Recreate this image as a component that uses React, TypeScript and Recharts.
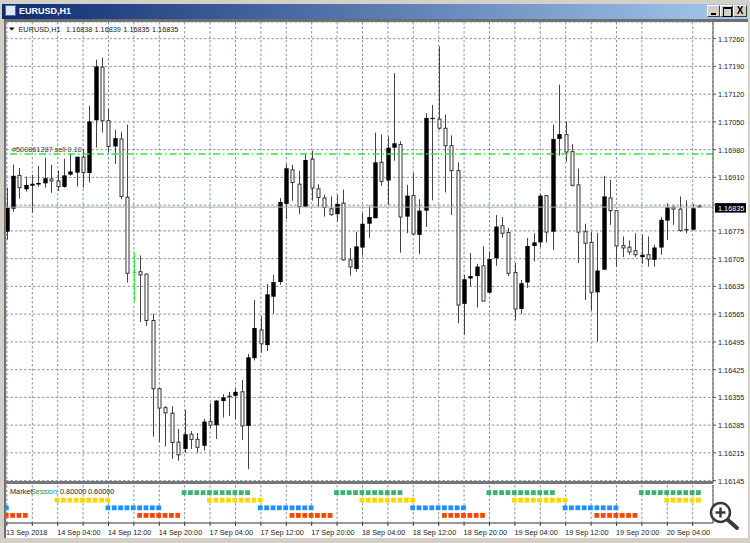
import { Bar, CartesianGrid, ComposedChart, ReferenceLine, Scatter, XAxis, YAxis } from "recharts";

const FONT = "'Liberation Sans', Arial, sans-serif";
const FS = 7.3;
const TEXT = "#222";
const GRID = "#8494a8";

// candles, oldest first (EURUSD H1)
const opens = [1.16773,1.16831,1.16915,1.16880,1.16889,1.16892,1.16895,1.16906,1.16901,1.16886,1.16917,1.16922,1.16961,1.16921,1.17054,1.17188,1.17053,1.16988,1.17007,1.16860,1.16670,1.16672,1.16666,1.16549,1.16377,1.16329,1.16315,1.16242,1.16225,1.16262,1.16249,1.16233,1.16294,1.16285,1.16346,1.16357,1.16359,1.16369,1.16283,1.16454,1.16525,1.16487,1.16609,1.16646,1.16843,1.16929,1.16893,1.16836,1.16956,1.16881,1.16858,1.16831,1.16817,1.16845,1.16702,1.16679,1.16733,1.16793,1.16807,1.16948,1.16902,1.16985,1.16993,1.16811,1.16864,1.16765,1.16826,1.17057,1.17057,1.17034,1.16990,1.16927,1.16591,1.16655,1.16661,1.16687,1.16619,1.16706,1.16788,1.16771,1.16670,1.16578,1.16645,1.16737,1.16746,1.16864,1.16773,1.17007,1.17018,1.16975,1.16891,1.16773,1.16746,1.16620,1.16677,1.16858,1.16826,1.16738,1.16734,1.16725,1.16709,1.16715,1.16702,1.16733,1.16801,1.16835,1.16830,1.16777,1.16778,1.16838];
const highs = [1.16884,1.16942,1.16934,1.16912,1.16917,1.16939,1.16960,1.16942,1.16927,1.16957,1.16970,1.16962,1.16980,1.17091,1.17207,1.17212,1.17083,1.17030,1.17025,1.17043,1.16720,1.16713,1.16667,1.16566,1.16379,1.16333,1.16333,1.16275,1.16323,1.16270,1.16265,1.16301,1.16340,1.16348,1.16363,1.16369,1.16378,1.16399,1.16465,1.16601,1.16559,1.16641,1.16664,1.16858,1.16944,1.16942,1.16927,1.16969,1.16977,1.16893,1.16866,1.16862,1.16866,1.16879,1.16732,1.16773,1.16820,1.16839,1.17023,1.17018,1.17013,1.17173,1.17001,1.16891,1.16921,1.16855,1.17072,1.17093,1.17240,1.17068,1.17016,1.16948,1.16664,1.16719,1.16692,1.16736,1.16723,1.16815,1.16810,1.16782,1.16694,1.16651,1.16757,1.16769,1.16868,1.16864,1.17043,1.17144,1.17051,1.16994,1.16932,1.16793,1.16773,1.16770,1.16914,1.16904,1.16826,1.16761,1.16751,1.16769,1.16765,1.16761,1.16740,1.16810,1.16845,1.16839,1.16862,1.16852,1.16843,1.16839];
const lows = [1.16753,1.16823,1.16856,1.16874,1.16821,1.16886,1.16884,1.16871,1.16876,1.16884,1.16914,1.16887,1.16884,1.16897,1.16985,1.17023,1.16973,1.16944,1.16855,1.16645,1.16596,1.16545,1.16535,1.16256,1.16243,1.16231,1.16200,1.16195,1.16215,1.16225,1.16215,1.16221,1.16278,1.16250,1.16304,1.16308,1.16301,1.16248,1.16174,1.16448,1.16468,1.16472,1.16566,1.16639,1.16805,1.16851,1.16817,1.16835,1.16851,1.16836,1.16811,1.16813,1.16799,1.16700,1.16662,1.16672,1.16713,1.16757,1.16807,1.16889,1.16841,1.16952,1.16720,1.16769,1.16765,1.16716,1.16785,1.16852,1.17030,1.16872,1.16815,1.16542,1.16513,1.16634,1.16582,1.16598,1.16618,1.16687,1.16758,1.16661,1.16550,1.16566,1.16631,1.16698,1.16734,1.16746,1.16727,1.16965,1.16950,1.16887,1.16694,1.16601,1.16574,1.16496,1.16677,1.16790,1.16685,1.16709,1.16715,1.16709,1.16692,1.16685,1.16685,1.16715,1.16752,1.16790,1.16773,1.16769,1.16776,1.16835];
const closes = [1.16833,1.16914,1.16884,1.16891,1.16894,1.16896,1.16908,1.16901,1.16887,1.16915,1.16925,1.16962,1.16922,1.17051,1.17190,1.17053,1.16988,1.17009,1.16862,1.16668,1.16667,1.16664,1.16549,1.16377,1.16328,1.16316,1.16241,1.16210,1.16262,1.16249,1.16229,1.16294,1.16285,1.16347,1.16355,1.16359,1.16369,1.16283,1.16456,1.16530,1.16490,1.16615,1.16646,1.16848,1.16933,1.16897,1.16836,1.16954,1.16883,1.16859,1.16834,1.16816,1.16843,1.16702,1.16684,1.16736,1.16793,1.16810,1.16948,1.16900,1.16985,1.16996,1.16810,1.16864,1.16767,1.16826,1.17060,1.17060,1.17034,1.16990,1.16927,1.16588,1.16653,1.16661,1.16685,1.16598,1.16704,1.16786,1.16769,1.16668,1.16578,1.16643,1.16737,1.16746,1.16864,1.16772,1.17007,1.17019,1.16974,1.16890,1.16772,1.16744,1.16620,1.16675,1.16862,1.16826,1.16737,1.16732,1.16722,1.16715,1.16715,1.16704,1.16733,1.16803,1.16835,1.16830,1.16776,1.16779,1.16832,1.16835];

const GREEN_CANDLE = 20;
const orderPrice = 1.16969;
const orderLabel = "#500861287 sell 0.10";
const lastPrice = 1.16835;

const priceTicks = [1.1726,1.1719,1.1712,1.1705,1.1698,1.1691,1.1684,1.16775,1.16705,1.16635,1.16565,1.16495,1.16425,1.16355,1.16285,1.16215,1.16145];
const gridTicks = [0,4,8,12,16,20,24,28,32,36,40,44,48,52,56,60,64,68,72,76,80,84,88,92,96,100,104,108];
const timeLabels: Record<number, string> = {
  0: "13 Sep 2018", 8: "14 Sep 04:00", 16: "14 Sep 12:00", 24: "14 Sep 20:00", 32: "17 Sep 04:00",
  40: "17 Sep 12:00", 48: "17 Sep 20:00", 56: "18 Sep 04:00", 64: "18 Sep 12:00", 72: "18 Sep 20:00",
  80: "19 Sep 04:00", 88: "19 Sep 12:00", 96: "19 Sep 20:00", 104: "20 Sep 04:00",
};

// market session indicator: candles on which each session is open
const sessionA = [28,29,30,31,32,33,34,35,36,37,38,52,53,54,55,56,57,58,59,60,61,62,76,77,78,79,80,81,82,83,84,85,86,100,101,102,103,104,105,106,107,108,109];
const sessionB = [8,9,10,11,12,13,14,15,16,32,33,34,35,36,37,38,39,40,56,57,58,59,60,61,62,63,64,80,81,82,83,84,85,86,87,88,104,105,106,107,108,109];
const sessionC = [0,16,17,18,19,20,21,22,23,24,40,41,42,43,44,45,46,47,48,64,65,66,67,68,69,70,71,72,88,89,90,91,92,93,94,95,96];
const sessionD = [0,1,2,3,21,22,23,24,25,26,27,45,46,47,48,49,50,51,69,70,71,72,73,74,75,93,94,95,96,97,98,99];

const candles = opens.map((open, i) => ({
  i,
  open,
  close: closes[i],
  high: highs[i],
  low: lows[i],
  range: [lows[i], highs[i]],
}));

const toPoints = (list: number[], level: number) => list.map((x) => ({ x, level }));

const X_DOMAIN: [number, number] = [-0.14, 111.2];

function Candle(props: any) {
  const { x, y, width, height, payload } = props;
  const span = payload.high - payload.low;
  const cx = Math.floor(x + width / 2) + 0.5;
  const pos = (p: number) => y + ((payload.high - p) / span) * height;
  const up = payload.close > payload.open;
  const top = pos(Math.max(payload.open, payload.close));
  const bottom = pos(Math.min(payload.open, payload.close));
  if (payload.i === GREEN_CANDLE) {
    return (
      <g>
        <line x1={cx} x2={cx} y1={y} y2={y + height} stroke="#33e833" />
        <line x1={cx - 2} x2={cx + 2} y1={top} y2={top} stroke="#33e833" />
      </g>
    );
  }
  return (
    <g>
      <line x1={cx} x2={cx} y1={y} y2={y + height} stroke="#444" />
      {up ? (
        <rect x={cx - 2.2} y={top} width={4.4} height={Math.max(bottom - top, 1)} fill="#000" />
      ) : (
        <rect x={cx - 1.5} y={top} width={3} height={Math.max(bottom - top, 1)} fill="#fff" stroke="#333" />
      )}
    </g>
  );
}

function PriceTick(props: any) {
  const { x, y, payload } = props;
  if (payload.value === 1.1684) return null;
  return (
    <text x={x} y={y + 3} fontSize={FS} fontFamily={FONT} fill={TEXT}>
      {payload.value.toFixed(5)}
    </text>
  );
}

function TimeTick(props: any) {
  const { x, y, payload } = props;
  const label = timeLabels[payload.value];
  if (!label) return null;
  return (
    <text x={payload.value === 0 ? 6 : x - 0.5} y={y + 7} fontSize={FS} fontFamily={FONT} fill={TEXT}>
      {label}
    </text>
  );
}

function SessionSquare(props: any) {
  const { cx, cy, fill } = props;
  return <rect x={cx - 3} y={cy - 2.4} width={4.8} height={4.8} fill={fill} />;
}

function LastPriceLabel(props: any) {
  const { viewBox } = props;
  const y = viewBox.y;
  return (
    <g>
      <rect x={715} y={y - 4} width={31} height={9.5} fill="#000" />
      <text x={718} y={y + 3.5} fontSize={FS} fontFamily={FONT} fill="#fff">
        {lastPrice.toFixed(5)}
      </text>
    </g>
  );
}

function OrderLabel(props: any) {
  const { viewBox } = props;
  return (
    <text x={viewBox.x + 6} y={viewBox.y - 2} fontSize={FS} fontFamily={FONT} fill="#444">
      {orderLabel}
    </text>
  );
}

function WindowChrome() {
  const btn = { position: "absolute", top: 5, height: 12, width: 13, background: "#d4d0c8", borderTop: "1px solid #fff", borderLeft: "1px solid #fff", borderRight: "1px solid #404040", borderBottom: "1px solid #404040", boxSizing: "border-box" } as const;
  return (
    <>
      <div style={{ position: "absolute", left: 0, top: 0, width: 750, height: 543, background: "#d4d0c8" }} />
      <div style={{ position: "absolute", left: 2, top: 4, width: 746, height: 15, background: "linear-gradient(90deg, #0f2c70 0%, #a6caf0 100%)" }} />
      <div style={{ position: "absolute", left: 5, top: 5, width: 11, height: 11, background: "#dfe9f5", border: "1px solid #4a6fa5", boxSizing: "border-box" }} />
      <div style={{ position: "absolute", left: 19, top: 5, color: "#fff", fontFamily: FONT, fontWeight: "bold", fontSize: 9, lineHeight: "12px" }}>EURUSD,H1</div>
      <div style={{ ...btn, left: 707 }}>
        <div style={{ position: "absolute", left: 3, top: 7, width: 5, height: 2, background: "#000" }} />
      </div>
      <div style={{ ...btn, left: 720 }}>
        <div style={{ position: "absolute", left: 2, top: 1, width: 7, height: 7, border: "1px solid #000", borderTopWidth: 2 }} />
      </div>
      <div style={{ ...btn, left: 733, width: 14, textAlign: "center", fontFamily: FONT, fontWeight: "bold", fontSize: 10, lineHeight: "10px" }}>X</div>
      <div style={{ position: "absolute", left: 4, top: 19, width: 744, height: 3, background: "#6e6e6e" }} />
      <div style={{ position: "absolute", left: 4, top: 19, width: 2, height: 519, background: "#6e6e6e" }} />
      <div style={{ position: "absolute", left: 6, top: 22, width: 742, height: 516, background: "#fff" }} />
    </>
  );
}

function Header() {
  return (
    <svg width={200} height={14} style={{ position: "absolute", left: 0, top: 23 }}>
      <polygon points="9,4.5 14.5,4.5 11.7,7.5" fill="#000" />
      <text x={18.5} y={9} fontSize={FS} fontFamily={FONT} fill={TEXT}>EURUSD,H1</text>
      <text x={66} y={9} fontSize={FS} fontFamily={FONT} fill={TEXT}>1.16838</text>
      <text x={94.5} y={9} fontSize={FS} fontFamily={FONT} fill={TEXT}>1.16839</text>
      <text x={123.3} y={9} fontSize={FS} fontFamily={FONT} fill={TEXT}>1.16835</text>
      <text x={152} y={9} fontSize={FS} fontFamily={FONT} fill={TEXT}>1.16835</text>
    </svg>
  );
}

function Magnifier() {
  return (
    <svg width={36} height={36} style={{ position: "absolute", left: 706, top: 499 }}>
      <line x1={22} y1={21} x2={31} y2={29} stroke="#3a3a3a" strokeWidth={4} strokeLinecap="round" />
      <circle cx={14.5} cy={13.5} r={9.5} fill="#fff" fillOpacity={0.9} stroke="#3a3a3a" strokeWidth={2.5} />
      <line x1={9.5} x2={19.5} y1={13.5} y2={13.5} stroke="#3a3a3a" strokeWidth={2.5} />
      <line x1={14.5} x2={14.5} y1={8.5} y2={18.5} stroke="#3a3a3a" strokeWidth={2.5} />
    </svg>
  );
}

export default function App() {
  return (
    <div style={{ position: "absolute", left: 0, top: 0, width: 750, height: 543, overflow: "hidden" }}>
      <WindowChrome />
      <div style={{ position: "absolute", left: 0, top: 0 }}>
        <ComposedChart width={750} height={488} data={candles} margin={{ top: 22, left: 6, right: 0, bottom: 5 }}>
          <CartesianGrid stroke={GRID} strokeDasharray="2.5 2" />
          <XAxis dataKey="i" type="number" domain={X_DOMAIN} ticks={gridTicks} allowDataOverflow hide />
          <YAxis
            orientation="right"
            width={37}
            type="number"
            domain={[1.16139, 1.17302]}
            allowDataOverflow
            ticks={priceTicks}
            interval={0}
            axisLine={{ stroke: "#555" }}
            tickLine={{ stroke: "#555" }}
            tickSize={3}
            tickMargin={2}
            tick={<PriceTick />}
          />
          <ReferenceLine y={lastPrice} stroke="#a3abb5" label={<LastPriceLabel />} />
          <ReferenceLine y={orderPrice} stroke="#3fe03f" strokeWidth={1.4} strokeDasharray="7 3 1.5 3" label={<OrderLabel />} />
          <Bar dataKey="range" barSize={5} shape={<Candle />} isAnimationActive={false} />
        </ComposedChart>
      </div>
      <div style={{ position: "absolute", left: 6, top: 481, width: 707, height: 3, background: "#777" }} />
      <div style={{ position: "absolute", left: 0, top: 484 }}>
        <ComposedChart width={750} height={54} margin={{ top: 1, left: 6, right: 0, bottom: 0 }}>
          <CartesianGrid stroke={GRID} strokeDasharray="2.5 2" horizontal={false} />
          <XAxis
            dataKey="x"
            type="number"
            domain={X_DOMAIN}
            ticks={gridTicks}
            allowDataOverflow
            height={15}
            interval={0}
            axisLine={{ stroke: "#333" }}
            tickLine={{ stroke: "#333" }}
            tickSize={3}
            tick={<TimeTick />}
          />
          <YAxis
            dataKey="level"
            orientation="right"
            width={37}
            type="number"
            domain={[0, 1]}
            ticks={[1]}
            axisLine={{ stroke: "#555" }}
            tickLine={false}
            tick={(p: any) => (
              <text x={718} y={p.y + 7} fontSize={FS} fontFamily={FONT} fill={TEXT}>1</text>
            )}
          />
          <Scatter data={toPoints(sessionA, 0.8)} fill="#3cb371" shape={<SessionSquare />} isAnimationActive={false} />
          <Scatter data={toPoints(sessionB, 0.6)} fill="#ffd700" shape={<SessionSquare />} isAnimationActive={false} />
          <Scatter data={toPoints(sessionC, 0.4)} fill="#1e90ff" shape={<SessionSquare />} isAnimationActive={false} />
          <Scatter data={toPoints(sessionD, 0.2)} fill="#ff4500" shape={<SessionSquare />} isAnimationActive={false} />
        </ComposedChart>
      </div>
      <svg width={130} height={14} style={{ position: "absolute", left: 0, top: 485 }}>
        <text x={10} y={9} fontSize={FS} fontFamily={FONT} fill={TEXT}>Market</text>
        <text x={31} y={9} fontSize={FS} fontFamily={FONT} fill="#2e8b57">Session</text>
        <text x={60} y={9} fontSize={FS} fontFamily={FONT} fill={TEXT}>0.80000</text>
        <text x={88} y={9} fontSize={FS} fontFamily={FONT} fill={TEXT}>0.60000</text>
      </svg>
      <Header />
      <Magnifier />
    </div>
  );
}
